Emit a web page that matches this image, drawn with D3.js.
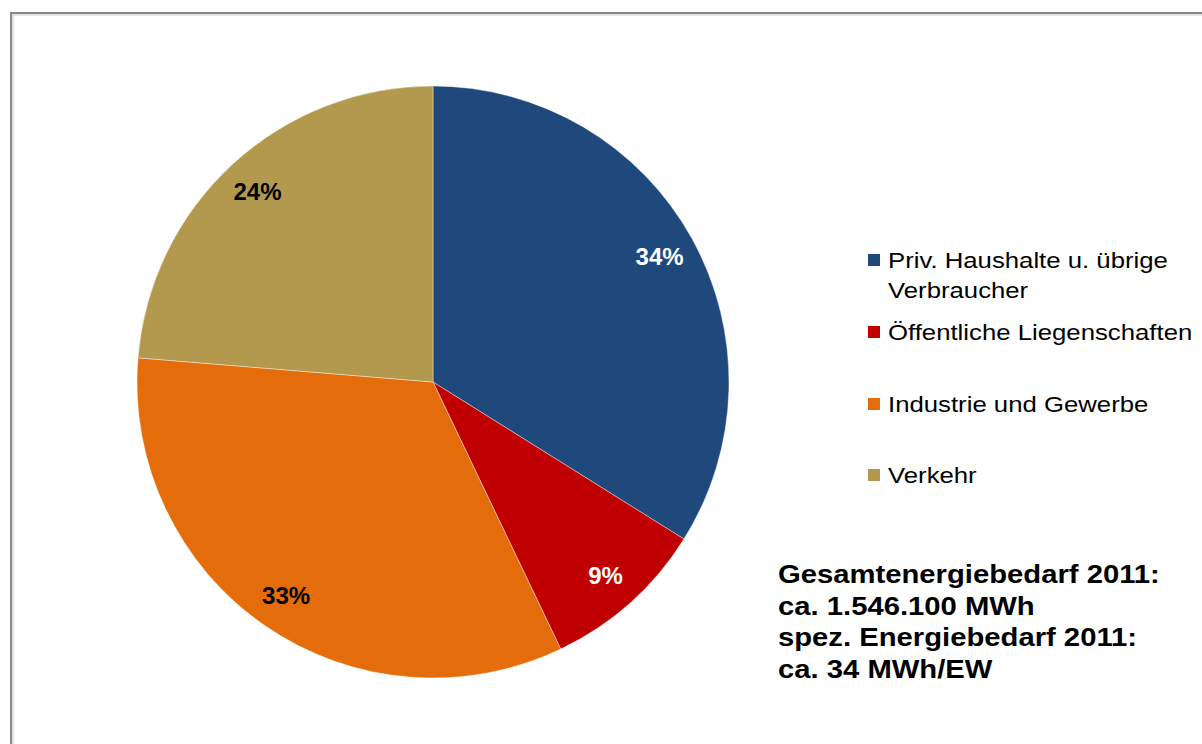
<!DOCTYPE html>
<html>
<head>
<meta charset="utf-8">
<script src="https://d3js.org/d3.v7.min.js"></script>
<style>
  body { margin: 0; background: #fff; }
  text { font-family: "Liberation Sans", Arial, sans-serif; }
</style>
</head>
<body>
<div id="chart"></div>
<script>
// data
let categories = ["Priv. Haushalte u. übrige|Verbraucher", "Öffentliche Liegenschaften", "Industrie und Gewerbe", "Verkehr"];
let values = [33.9, 9.0, 33.4, 23.7];
let labels = ["34%", "9%", "33%", "24%"];
let colors = ["#1F497D", "#C00000", "#E46C0A", "#B3994E"];
let labelColors = ["#fff", "#fff", "#000", "#000"];
let notes = ["Gesamtenergiebedarf 2011:", "ca. 1.546.100 MWh", "spez. Energiebedarf 2011:", "ca. 34 MWh/EW"];

var width = 1202, height = 744, radius = 296;
var stretch = 1.17; // text in the original is a bit wider than plain Arial

var svg = d3.select("#chart").append("svg")
  .attr("width", width)
  .attr("height", height);

// frame
svg.append("rect")
  .attr("x", 11).attr("y", 13)
  .attr("width", width).attr("height", height)
  .attr("fill", "none")
  .attr("stroke", "#888").attr("stroke-width", 2);
svg.append("rect")
  .attr("x", 13).attr("y", 15)
  .attr("width", width).attr("height", height)
  .attr("fill", "none")
  .attr("stroke", "#ccc").attr("stroke-width", 1);

var data = categories.map(function(c, i) {
  return { label: c, value: values[i], text: labels[i], color: colors[i], tc: labelColors[i] };
});

var pie = d3.pie().sort(null).value(function(d) { return d.value; });
var arc = d3.arc().innerRadius(0).outerRadius(radius);
var labelArc = d3.arc().innerRadius(259).outerRadius(259);

var g = svg.append("g").attr("transform", "translate(433,382)");

g.selectAll("path.slice")
  .data(pie(data))
  .enter().append("path")
  .attr("class", "slice")
  .attr("d", arc)
  .attr("fill", function(d) { return d.data.color; })
  .attr("stroke", "#fff")
  .attr("stroke-width", 0.4);

g.selectAll("text.pct")
  .data(pie(data))
  .enter().append("text")
  .attr("class", "pct")
  .attr("transform", function(d) { return "translate(" + labelArc.centroid(d) + ")"; })
  .attr("text-anchor", "middle")
  .attr("dy", "0.36em")
  .style("font-size", "24px")
  .style("font-weight", "bold")
  .attr("fill", function(d) { return d.data.tc; })
  .text(function(d) { return d.data.text; });

// legend
var legendY = [260, 332, 404, 475];
var legend = svg.append("g").attr("class", "legend");
data.forEach(function(d, i) {
  var row = legend.append("g").attr("transform", "translate(868," + legendY[i] + ")");
  row.append("rect")
    .attr("x", 0).attr("y", -6)
    .attr("width", 12).attr("height", 12)
    .attr("fill", d.color);
  var t = row.append("text")
    .attr("transform", "translate(20,8) scale(" + stretch + ",1)")
    .style("font-size", "22px")
    .attr("fill", "#000");
  d.label.split("|").forEach(function(line, j) {
    t.append("tspan").attr("x", 0).attr("dy", j === 0 ? 0 : 30).text(line);
  });
});

// notes
svg.append("g").selectAll("text")
  .data(notes)
  .enter().append("text")
  .attr("transform", function(d, i) {
    return "translate(778," + (583 + i * 31.6) + ") scale(" + stretch + ",1)";
  })
  .style("font-size", "25px")
  .style("font-weight", "bold")
  .attr("fill", "#000")
  .text(function(d) { return d; });
</script>
</body>
</html>
